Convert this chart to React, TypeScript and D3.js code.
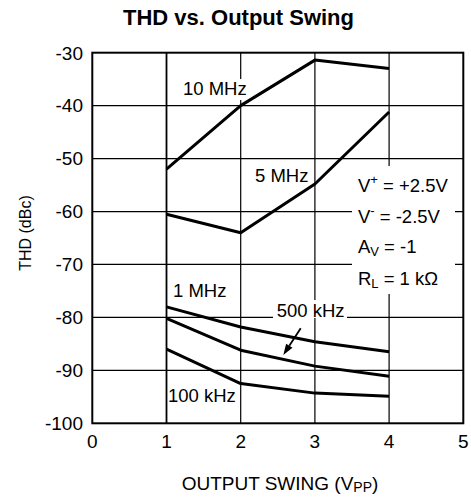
import React from "react";
import * as d3 from "d3";

// ---- data ----
const swing = [1, 2, 3, 4];
const thd10MHz = [-52.0, -40.0, -31.4, -33.0];
const thd5MHz = [-60.5, -64.0, -54.8, -41.2];
const thd1MHz = [-78.0, -81.8, -84.6, -86.5];
const thd500kHz = [-80.2, -86.2, -89.2, -91.1];
const thd100kHz = [-86.0, -92.5, -94.3, -94.9];

const xTicks = [0, 1, 2, 3, 4, 5];
const yTicks = [-30, -40, -50, -60, -70, -80, -90, -100];

const seriesNames = ["10 MHz", "5 MHz", "1 MHz", "500 kHz", "100 kHz"];
const seriesValues = [thd10MHz, thd5MHz, thd1MHz, thd500kHz, thd100kHz];
// label anchor positions (data units)
const labelX = [1.222, 2.193, 1.088, 2.485, 1.02];
const labelY = [-38.0, -54.37, -76.09, -79.87, -95.92];

const W = 471;
const H = 501;
const FONT = "'Liberation Sans', Arial, Helvetica, sans-serif";

export default function App() {
  const x = d3.scaleLinear().domain([0, 5]).range([92.3, 463.3]);
  const y = d3.scaleLinear().domain([-30, -100]).range([52.7, 423.3]);
  const line = d3
    .line<number>()
    .x((_, i) => x(swing[i]))
    .y((d) => y(d));

  const x0 = x(0), x5 = x(5), yTop = y(-30), yBot = y(-100);

  const arrowStart = [x(2.809), y(-82.06)];
  const arrowEnd = [x(2.574), y(-87.1)];
  const ang = Math.atan2(arrowEnd[1] - arrowStart[1], arrowEnd[0] - arrowStart[0]);
  const hl = 11, hw = 3.8;
  const bx = arrowEnd[0] - hl * Math.cos(ang);
  const by = arrowEnd[1] - hl * Math.sin(ang);
  const head = [
    [arrowEnd[0], arrowEnd[1]],
    [bx + hw * Math.sin(ang), by - hw * Math.cos(ang)],
    [bx - hw * Math.sin(ang), by + hw * Math.cos(ang)],
  ];

  const annX = x(3.58);
  const annY = [-56.26, -62.17, -67.84, -73.88].map((v) => y(v));

  return (
    <svg
      width={W}
      height={H}
      style={{ position: "absolute", left: 0, top: 0, background: "#fff" }}
      fontFamily={FONT}
    >
      <rect x={0} y={0} width={W} height={H} fill="#fff" />
      <text x={238.5} y={25} textAnchor="middle" fontSize={22} fontWeight="bold">
        THD vs. Output Swing
      </text>

      {/* grid */}
      {yTicks.slice(1, -1).map((t) => (
        <line key={"gy" + t} x1={x0} x2={x5} y1={y(t)} y2={y(t)} stroke="#000" strokeWidth={1.2} />
      ))}
      {xTicks.slice(1, -1).map((t) => (
        <line
          key={"gx" + t}
          x1={x(t)}
          x2={x(t)}
          y1={yTop}
          y2={yBot}
          stroke="#000"
          strokeWidth={t === 1 ? 1.8 : 1.2}
        />
      ))}

      {/* masks behind labels */}
      <rect x={x(labelX[0]) - 3} y={y(labelY[0]) - 16} width={69} height={21} fill="#fff" />
      <rect x={x(labelX[3]) - 3.7} y={y(labelY[3]) - 16.7} width={74} height={18} fill="#fff" />
      <rect x={352} y={166} width={103} height={128} fill="#fff" />

      {/* border */}
      <rect x={x0} y={yTop} width={x5 - x0} height={yBot - yTop} fill="none" stroke="#000" strokeWidth={2} />

      {/* curves */}
      {seriesValues.map((vals, i) => (
        <path key={"s" + i} d={line(vals) || ""} fill="none" stroke="#000" strokeWidth={3} strokeLinejoin="round" />
      ))}

      {/* curve labels */}
      {seriesNames.map((n, i) => (
        <text key={"l" + i} x={x(labelX[i])} y={y(labelY[i])} fontSize={18.5}>
          {n}
        </text>
      ))}

      {/* arrow */}
      <line x1={arrowStart[0]} y1={arrowStart[1]} x2={bx} y2={by} stroke="#000" strokeWidth={1.8} />
      <polygon points={head.map((p) => p.join(",")).join(" ")} fill="#000" />

      {/* conditions */}
      <text x={annX} y={annY[0]} fontSize={18.5}>
        V<tspan fontSize={13} dy={-8}>+</tspan>
        <tspan dy={8}> = +2.5V</tspan>
      </text>
      <text x={annX} y={annY[1]} fontSize={18.5}>
        V<tspan fontSize={13} dy={-8}>-</tspan>
        <tspan dy={8}> = -2.5V</tspan>
      </text>
      <text x={annX} y={annY[2]} fontSize={18.5}>
        A<tspan fontSize={13} dy={3}>V</tspan>
        <tspan dy={-3}> = -1</tspan>
      </text>
      <text x={annX} y={annY[3]} fontSize={18.5}>
        R<tspan fontSize={13} dy={3}>L</tspan>
        <tspan dy={-3}> = 1 kΩ</tspan>
      </text>

      {/* y ticks */}
      {yTicks.map((t) => (
        <text key={"yt" + t} x={83} y={y(t)} dy="0.36em" textAnchor="end" fontSize={19}>
          {t}
        </text>
      ))}
      {/* x ticks */}
      {xTicks.map((t) => (
        <text key={"xt" + t} x={x(t)} y={448} textAnchor="middle" fontSize={19}>
          {t}
        </text>
      ))}

      <text x={280} y={490} textAnchor="middle" fontSize={19}>
        OUTPUT SWING (V<tspan fontSize={14} dy={2}>PP</tspan>
        <tspan dy={-2}>)</tspan>
      </text>
      <text transform={`translate(31,233) rotate(-90)`} textAnchor="middle" fontSize={16}>
        THD (dBc)
      </text>
    </svg>
  );
}
